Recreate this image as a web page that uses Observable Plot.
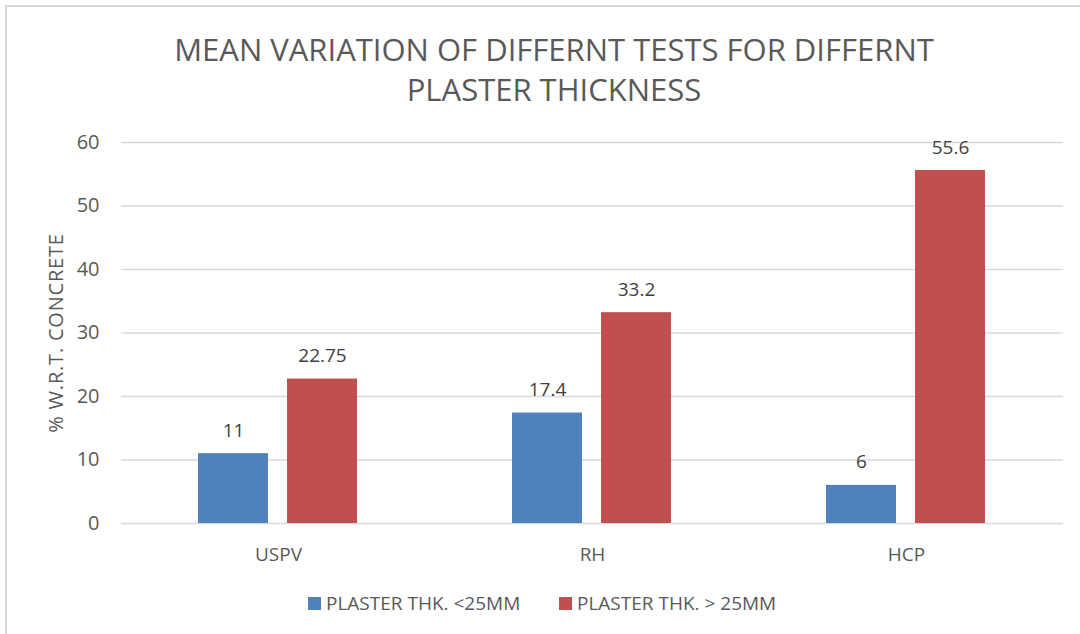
<!DOCTYPE html>
<html>
<head>
<meta charset="utf-8">
<script src="https://cdn.jsdelivr.net/npm/d3@7"></script>
<script src="https://cdn.jsdelivr.net/npm/@observablehq/plot@0.6"></script>
<style>
  html, body { margin: 0; padding: 0; background: #fff; }
  #chart { position: relative; width: 1080px; height: 634px; overflow: hidden; font-family: "Open Sans", sans-serif; color: #595959; }
  #frame { position: absolute; left: 5px; top: 5px; width: 1200px; height: 700px; border-top: 2px solid #d9d9d9; border-left: 2px solid #d9d9d9; }
  #title { position: absolute; left: 0; width: 1108px; top: 29px; text-align: center; font-size: 31px; line-height: 40px; color: #595959; }
  #plot { position: absolute; left: 0; top: 120px; }
  #legend { position: absolute; top: 590px; left: 0; width: 1080px; height: 26px; }
  .item { position: absolute; top: 0; display: flex; align-items: center; font-size: 19px; color: #595959; white-space: nowrap; height: 26px; }
  .sw { width: 13px; height: 13px; margin-right: 5px; display: inline-block; }
  #plot svg g[aria-label="y-axis label"] text { letter-spacing: 0.8px; font-size: 20px; }
  #plot svg g[aria-label="y-axis tick label"] text { font-size: 20px; }
</style>
</head>
<body>
<div id="chart">
  <div id="frame"></div>
  <div id="title"></div>
  <div id="plot"></div>
  <div id="legend"></div>
</div>
<script>
const titleLines = ["MEAN VARIATION OF DIFFERNT TESTS FOR DIFFERNT", "PLASTER THICKNESS"];
const categories = ["USPV", "RH", "HCP"];
const seriesNames = ["PLASTER THK. <25MM", "PLASTER THK. > 25MM"];
const thinValues = [11, 17.4, 6];
const thickValues = [22.75, 33.2, 55.6];
const yTicks = [0, 10, 20, 30, 40, 50, 60];
const yLabel = "% W.R.T. CONCRETE";
const colors = ["#4F81BD", "#C0504D"];

const data = [];
categories.forEach((c, i) => {
  data.push({cat: c, series: seriesNames[0], value: thinValues[i]});
  data.push({cat: c, series: seriesNames[1], value: thickValues[i]});
});

document.getElementById("title").innerHTML = titleLines.join("<br>");

const chart = Plot.plot({
  width: 1080,
  height: 455,
  marginLeft: 120,
  marginRight: 17,
  marginTop: 22,
  marginBottom: 52,
  style: {fontFamily: "Open Sans, sans-serif", fontSize: "19px", color: "#595959", background: "transparent"},
  fx: {domain: categories, padding: 0, label: null, axis: "bottom", tickSize: 0, tickPadding: 24},
  x: {domain: seriesNames, paddingInner: 0.211, paddingOuter: 0.852, axis: null},
  y: {domain: [0, 60], ticks: yTicks, tickSize: 0, tickPadding: 22, label: yLabel, labelAnchor: "center", labelOffset: 73, labelArrow: "none"},
  color: {domain: seriesNames, range: colors},
  marks: [
    Plot.gridY(yTicks, {stroke: "#d9d9d9", strokeOpacity: 1, strokeWidth: 1.5}),
    Plot.barY(data, {fx: "cat", x: "series", y: "value", fill: "series"}),
    Plot.text(data, {fx: "cat", x: "series", y: "value", text: d => String(d.value), dy: -23, fill: "#404040", fontSize: 19})
  ]
});
document.getElementById("plot").appendChild(chart);

const legend = document.getElementById("legend");
const lefts = [308, 559];
seriesNames.forEach((s, i) => {
  const it = document.createElement("div");
  it.className = "item";
  it.style.left = lefts[i] + "px";
  it.innerHTML = `<span class="sw" style="background:${colors[i]}"></span><span>${s}</span>`;
  legend.appendChild(it);
});
</script>
</body>
</html>
